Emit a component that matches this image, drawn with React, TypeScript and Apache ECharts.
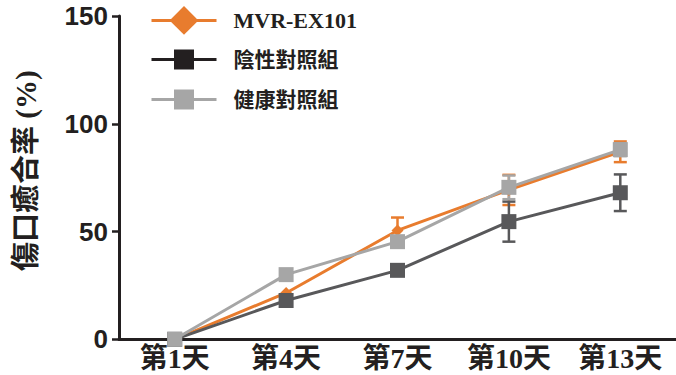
import React, { useEffect, useRef } from "react";
import * as echarts from "echarts";

// Wound-closure rate (%) per observation day, mean and SD for each group
const categories = ["第1天", "第4天", "第7天", "第10天", "第13天"];
const seriesNames = ["MVR-EX101", "陰性對照組", "健康對照組"];
const mvrMean = [0, 21.5, 50.5, 69.3, 87];
const mvrSd = [0, 0, 6, 7, 4.8];
const negMean = [0, 18, 32, 54.6, 68];
const negSd = [0, 0, 0, 9.3, 8.5];
const healthyMean = [0, 30, 45.3, 70.5, 88];
const healthySd = [0, 0, 0, 5.5, 3];
const yTicks = [0, 50, 100, 150];

const ORANGE = "#e87c2e";
const DARK = "#58585a";
const LEGEND_DARK = "#231f20";
const GRAY = "#a6a6a6";
const AXIS = "#231f20";
const SERIF = '"Liberation Serif", "Noto Sans CJK TC", serif';
const SANS = '"Liberation Sans", Arial, sans-serif';

function errorSeries(mean: number[], sd: number[], color: string) {
  return {
    type: "custom",
    z: 1,
    silent: true,
    data: mean.map((m, i) => [i, m, sd[i]]),
    renderItem: (_params: any, api: any) => {
      const s = api.value(2);
      if (!s) return null;
      const x = api.value(0);
      const m = api.value(1);
      const top = api.coord([x, m + s]);
      const bot = api.coord([x, m - s]);
      const half = 6.5;
      const style = { stroke: color, lineWidth: 2.5 };
      return {
        type: "group",
        children: [
          { type: "line", shape: { x1: top[0], y1: top[1], x2: bot[0], y2: bot[1] }, style },
          { type: "line", shape: { x1: top[0] - half, y1: top[1], x2: top[0] + half, y2: top[1] }, style },
          { type: "line", shape: { x1: bot[0] - half, y1: bot[1], x2: bot[0] + half, y2: bot[1] }, style },
        ],
      };
    },
  };
}

function legendFor(name: string, top: number, itemHeight: number, color: string, fontSize: number) {
  return {
    selectedMode: false,
    left: 150,
    top,
    padding: 0,
    itemWidth: 65,
    itemHeight,
    data: [
      {
        name,
        itemStyle: { color },
        lineStyle: { color, width: 3 },
      },
    ],
    textStyle: {
      color: AXIS,
      fontSize,
      fontWeight: "bold",
      fontFamily: SERIF,
      padding: [0, 0, 0, 12],
    },
  };
}

export default function App() {
  const ref = useRef<HTMLDivElement>(null);

  useEffect(() => {
    if (!ref.current) return;
    const chart = echarts.init(ref.current, null, { renderer: "svg" });
    chart.setOption({
      animation: false,
      backgroundColor: "#ffffff",
      grid: { left: 119, top: 16, width: 560, height: 323.3, containLabel: false },
      legend: [
        legendFor(seriesNames[0], 6, 36, ORANGE, 22),
        legendFor(seriesNames[1], 49, 25, LEGEND_DARK, 21),
        legendFor(seriesNames[2], 89, 25, GRAY, 21),
      ],
      xAxis: {
        type: "category",
        data: categories,
        boundaryGap: true,
        axisLine: { lineStyle: { color: AXIS, width: 3 } },
        axisTick: { alignWithLabel: true, length: 8, lineStyle: { color: AXIS, width: 2.5 } },
        axisLabel: {
          color: AXIS,
          fontSize: 28,
          fontWeight: "bold",
          fontFamily: SERIF,
          margin: 5,
        },
      },
      yAxis: {
        type: "value",
        min: 0,
        max: yTicks[yTicks.length - 1],
        interval: 50,
        name: "傷口癒合率 (%)",
        nameLocation: "middle",
        nameRotate: 90,
        nameGap: 79,
        nameTextStyle: {
          color: AXIS,
          fontSize: 29,
          fontWeight: "bold",
          fontFamily: SERIF,
          padding: [0, 0, 0, 14],
        },
        splitLine: { show: false },
        axisLine: { show: true, lineStyle: { color: AXIS, width: 3 } },
        axisTick: { show: true, length: 7, lineStyle: { color: AXIS, width: 2.5 } },
        axisLabel: {
          color: AXIS,
          fontSize: 26,
          fontWeight: "bold",
          fontFamily: SANS,
          margin: 11,
        },
      },
      series: [
        errorSeries(mvrMean, mvrSd, ORANGE),
        errorSeries(negMean, negSd, DARK),
        errorSeries(healthyMean, healthySd, GRAY),
        {
          name: seriesNames[0],
          type: "line",
          z: 2,
          data: mvrMean,
          symbol: "diamond",
          symbolSize: 12,
          itemStyle: { color: ORANGE },
          lineStyle: { color: ORANGE, width: 3 },
        },
        {
          name: seriesNames[1],
          type: "line",
          z: 3,
          data: negMean,
          symbol: "rect",
          symbolSize: 15,
          itemStyle: { color: DARK },
          lineStyle: { color: DARK, width: 3 },
        },
        {
          name: seriesNames[2],
          type: "line",
          z: 4,
          data: healthyMean,
          symbol: "rect",
          symbolSize: 15,
          itemStyle: { color: GRAY },
          lineStyle: { color: GRAY, width: 3 },
        },
      ],
    });
    return () => chart.dispose();
  }, []);

  return <div ref={ref} style={{ width: 676, height: 375, position: "absolute", left: 0, top: 0 }} />;
}
